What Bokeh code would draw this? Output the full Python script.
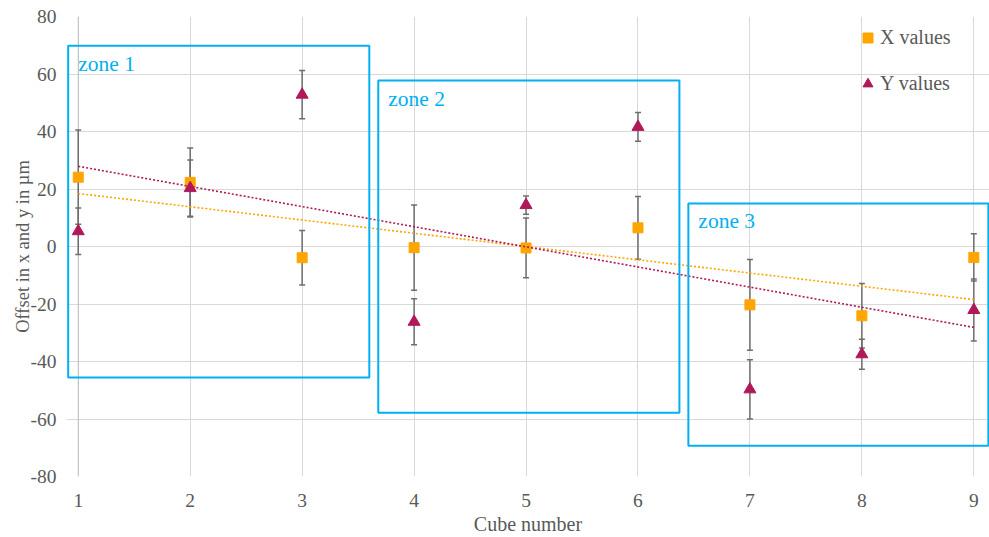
import numpy as np
from bokeh.plotting import figure
from bokeh.models import (Range1d, FixedTicker, Whisker, TeeHead, ColumnDataSource,
                          Legend, LegendItem, Span, Label)
from bokeh.embed import file_html
from bokeh.resources import INLINE

# ---- data ----
cubes = [1, 2, 3, 4, 5, 6, 7, 8, 9]
x_values = [24.1, 22.3, -3.9, -0.4, -0.5, 6.5, -20.3, -24.1, -3.8]
x_errors = [16.4, 12.0, 9.5, 14.8, 10.4, 10.9, 15.8, 11.2, 8.2]
y_values = [5.3, 20.3, 52.8, -26.2, 14.4, 41.6, -49.7, -37.5, -22.1]
y_errors = [8.1, 9.8, 8.4, 8.0, 3.2, 5.0, 10.3, 5.2, 10.8]
y_ticks = [-80, -60, -40, -20, 0, 20, 40, 60, 80]

zone_names = ["zone 1", "zone 2", "zone 3"]
zone_left = [0.91, 3.68, 6.45]
zone_right = [3.60, 6.37, 9.13]
zone_top = [69.8, 57.7, 15.0]
zone_bottom = [-45.6, -57.8, -69.3]

FONT = "Liberation Serif"
GRAY_TXT = "#595959"
ORANGE = "#FFA500"
CRIMSON = "#B0185A"
ZONE = "#00B0F0"
ERR = "#6E6E6E"

p = figure(width=989, height=537, output_backend="svg", toolbar_location=None,
           x_range=Range1d(0.895, 9.14), y_range=Range1d(-80, 80),
           min_border_left=66, min_border_right=0, min_border_top=16, min_border_bottom=0)
p.outline_line_color = None
p.background_fill_color = "white"

# axes
p.xaxis.ticker = FixedTicker(ticks=cubes)
p.yaxis.ticker = FixedTicker(ticks=y_ticks)
p.yaxis.major_label_overrides = {t: str(t) for t in y_ticks}
for ax in (p.xaxis[0], p.yaxis[0]):
    ax.axis_line_color = None
    ax.major_tick_line_color = None
    ax.minor_tick_line_color = None
    ax.major_label_text_font = FONT
    ax.major_label_text_font_size = "19.5px"
    ax.major_label_text_color = GRAY_TXT
    ax.axis_label_text_font = FONT
    ax.axis_label_text_font_style = "normal"
    ax.axis_label_text_color = GRAY_TXT
p.xaxis.axis_label = "Cube number"
p.yaxis.axis_label = "Offset in x and y in µm"
p.xaxis.axis_label_text_font_size = "20px"
p.yaxis.axis_label_text_font_size = "18.5px"
p.xaxis.major_label_standoff = 11
p.xaxis.axis_label_standoff = 3
p.yaxis.major_label_standoff = 4
p.yaxis.axis_label_standoff = -5

# grid
p.xgrid.ticker = FixedTicker(ticks=cubes)
p.ygrid.ticker = FixedTicker(ticks=y_ticks)
p.xgrid.grid_line_color = "#D9D9D9"
p.ygrid.grid_line_color = "#D9D9D9"
p.ygrid.bounds = (cubes[0], cubes[-1])

# axis lines at x=1 and y=0
p.add_layout(Span(location=cubes[0], dimension="height", line_color="#BFBFBF",
                  line_width=1, level="underlay"))
p.segment(x0=[cubes[0]], x1=[cubes[-1]], y0=[0], y1=[0], line_color="#BFBFBF", line_width=1,
          level="underlay")

src = ColumnDataSource(dict(
    cube=cubes, xv=x_values, yv=y_values,
    x_up=[v + e for v, e in zip(x_values, x_errors)],
    x_lo=[v - e for v, e in zip(x_values, x_errors)],
    y_up=[v + e for v, e in zip(y_values, y_errors)],
    y_lo=[v - e for v, e in zip(y_values, y_errors)],
))

for up, lo in (("x_up", "x_lo"), ("y_up", "y_lo")):
    w = Whisker(source=src, base="cube", upper=up, lower=lo, dimension="height",
                line_color=ERR, line_width=1.5, level="underlay",
                upper_head=TeeHead(size=6, line_color=ERR, line_width=1.5),
                lower_head=TeeHead(size=6, line_color=ERR, line_width=1.5))
    p.add_layout(w)

sq = p.scatter("cube", "xv", source=src, marker="square", size=10,
               fill_color=ORANGE, line_color=ORANGE)
tri = p.scatter("cube", "yv", source=src, marker="triangle", size=12,
                fill_color=CRIMSON, line_color=CRIMSON)

# linear trend lines
xs = np.array([cubes[0], cubes[-1]], dtype=float)
for vals, col in ((x_values, ORANGE), (y_values, CRIMSON)):
    m, b = np.polyfit(cubes, vals, 1)
    p.line(xs, m * xs + b, line_color=col, line_width=1.6, line_dash="2 2")

# zones
p.quad(left=zone_left, right=zone_right, top=zone_top, bottom=zone_bottom,
       fill_alpha=0, line_color=ZONE, line_width=2)
for name, zl, zt in zip(zone_names, zone_left, zone_top):
    p.add_layout(Label(x=zl, y=zt, x_offset=10, y_offset=-18, text=name,
                       text_font=FONT, text_font_size="21.5px", text_color=ZONE,
                       text_baseline="alphabetic"))

legend = Legend(items=[LegendItem(label="X values", renderers=[sq]),
                       LegendItem(label="Y values", renderers=[tri])],
                location=(789, 380), orientation="vertical",
                label_text_font=FONT, label_text_font_size="20px", label_text_color=GRAY_TXT,
                glyph_width=25, glyph_height=25, label_standoff=0, spacing=21,
                padding=0, margin=0, background_fill_alpha=0, border_line_alpha=0)
p.add_layout(legend)

open("out.html", "w").write(file_html(p, INLINE))
